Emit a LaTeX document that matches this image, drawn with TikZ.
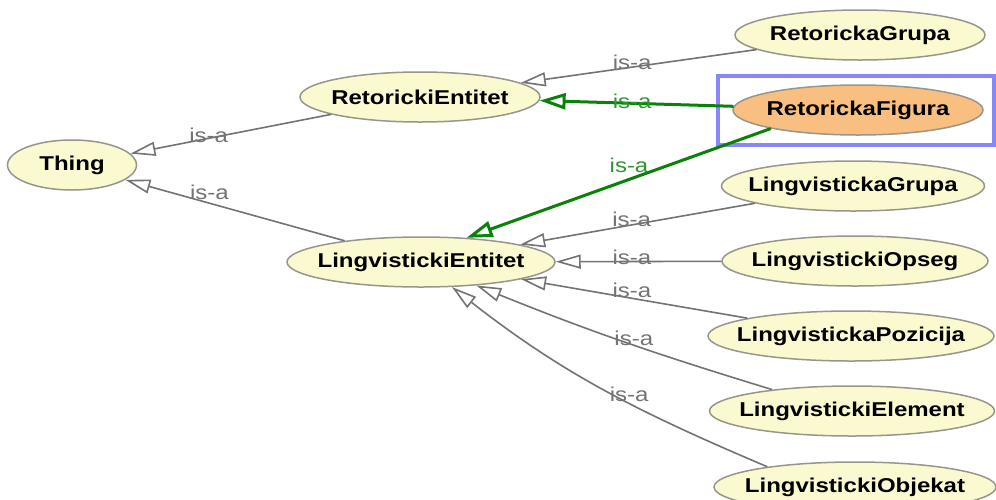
\documentclass[tikz,border=0pt]{standalone}
\usepackage{fontspec}
\setmainfont{Liberation Sans}[FakeStretch=1.2]
\usepackage{tikz}
\usetikzlibrary{shapes, arrows.meta}
\definecolor{cls}{RGB}{250, 249, 207}
\definecolor{clsline}{RGB}{150, 150, 140}
\definecolor{selfill}{RGB}{249, 191, 128}
\definecolor{selblue}{RGB}{135, 135, 250}
\definecolor{isagray}{RGB}{115, 115, 115}
\definecolor{isagreen}{RGB}{10, 130, 10}
\tikzset{
    classnode/.style = {draw=clsline, ellipse, fill=cls, line width=1.5pt, inner xsep=-150pt, 
      inner ysep=0pt, minimum height=50pt, font=\fontsize{20}{24}\selectfont\bfseries, text=black},
    selnode/.style = {classnode, fill=selfill},
    isa/.style = {draw=isagray, line width=1.6pt, -{Triangle[length=25pt, width=14pt, fill=white]}},
    isasel/.style = {draw=isagreen, line width=3pt, -{Triangle[length=26pt, width=16pt, fill=white]}},
    isatext/.style = {inner sep=0pt, font=\fontsize{20}{24}\selectfont, text=isagray},
    isaseltext/.style = {isatext, text=isagreen!85!white},
    selframe/.style = {draw=selblue, line width=4pt}
}

\begin{document}
\begin{tikzpicture}[x=1pt, y=1pt]
\useasboundingbox (0,0) rectangle (996,-499);

% classes
\node[classnode, minimum width=129pt] (thing) at (72,-165) {Thing};
\node[classnode, minimum width=240pt] (reent) at (420,-97) {RetorickiEntitet};
\node[classnode, minimum width=268pt] (lent) at (421,-262) {LingvistickiEntitet};
\node[classnode, minimum width=250pt] (rgrupa) at (860,-35) {RetorickaGrupa};
\node[selnode, minimum width=250pt] (rfigura) at (858,-110) {RetorickaFigura};
\node[classnode, minimum width=263pt] (lgrupa) at (853,-186) {LingvistickaGrupa};
\node[classnode, minimum width=266pt] (lopseg) at (855,-261) {LingvistickiOpseg};
\node[classnode, minimum width=286pt] (lpozicija) at (851,-336) {LingvistickaPozicija};
\node[classnode, minimum width=285pt] (lelement) at (852,-411) {LingvistickiElement};
\node[classnode, minimum width=282pt] (lobjekat) at (855,-487) {LingvistickiObjekat};

% selected class
\draw[selframe] (718,-76) rectangle (994,-145);

% is-a links
\draw[isa] (reent) -- node[isatext, pos=.61, yshift=3pt] (isa1) {is-a} (thing);
\draw[isa] (lent) -- node[isatext, pos=.617, yshift=11pt] (isa2) {is-a} (thing);
\draw[isa] (rgrupa) -- node[isatext, pos=.527, yshift=5pt] (isa3) {is-a} (reent);
\draw[isasel] (rfigura) -- node[isaseltext, pos=.523, yshift=2pt] (isa4) {is-a} (reent);
\draw[isasel] (rfigura.192) -- node[isaseltext, pos=.466, yshift=14pt] (isa5) {is-a} (lent.28);
\draw[isa] (lgrupa) -- node[isatext, pos=.525, yshift=6pt] (isa6) {is-a} (lent);
\draw[isa] (lopseg) -- node[isatext, pos=.54, yshift=4pt] (isa7) {is-a} (lent);
\draw[isa] (lpozicija) -- node[isatext, pos=.51, yshift=8pt] (isa8) {is-a} (lent);
\draw[isa] (lelement.165) to[out=163, in=-22] node[isatext, pos=.46, yshift=7pt] (isa9) {is-a} (lent.-23);
\draw[isa] (lobjekat.167) to[out=157, in=-38] node[isatext, pos=.41, yshift=9pt] (isa10) {is-a} (lent.-39);
\end{tikzpicture}
\end{document}
